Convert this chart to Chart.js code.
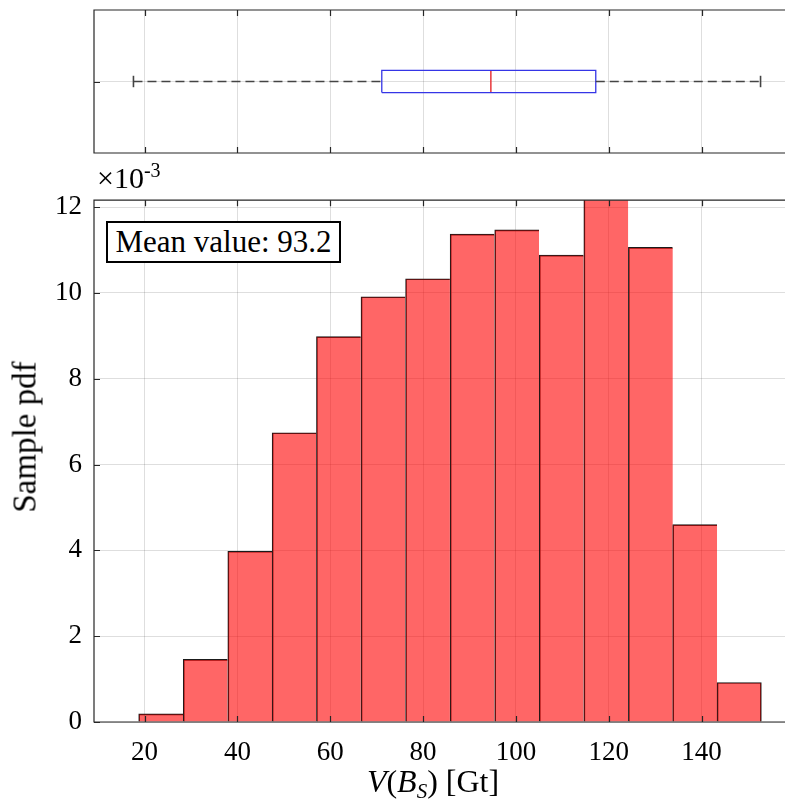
<!DOCTYPE html>
<html>
<head>
<meta charset="utf-8">
<script src="https://cdn.jsdelivr.net/npm/chart.js@4.4.1/dist/chart.umd.min.js"></script>
<style>
    html, body { margin: 0; padding: 0; background: #fff; overflow: hidden; }
    #wrap { position: relative; width: 785px; height: 801px; overflow: hidden; font-family: 'Liberation Serif', serif; color: #000; }
    canvas { position: absolute; left: 0; }
    #box-canvas { top: 0; }
    #hist-canvas { top: 172px; }
    .lbl { position: absolute; white-space: nowrap; line-height: 1; }
    #exp { left: 97px; top: 163px; font-size: 30px; }
    #exp sup { font-size: 20px; vertical-align: 11px; line-height: 0; }
    #ytitle { left: 25px; top: 437px; font-size: 33px; transform: translate(-50%, -50%) rotate(-90deg); }
    #xtitle { left: 433px; top: 765px; font-size: 32px; transform: translateX(-50%); }
    #xtitle sub { font-size: 21px; vertical-align: -6px; line-height: 0; }
    #mean { left: 106px; top: 221px; width: 231px; height: 38px; border: 2px solid #000; background: #fff; font-size: 31px; text-align: center; line-height: 38px; }
</style>
</head>
<body>
<div id="wrap">
    <canvas id="box-canvas" width="800" height="170"></canvas>
    <canvas id="hist-canvas" width="800" height="629"></canvas>
    <div class="lbl" id="exp">×10<sup>-3</sup></div>
    <div class="lbl" id="ytitle">Sample pdf</div>
    <div class="lbl" id="xtitle"><i>V</i>(<i>B</i><sub><i>S</i></sub>) [Gt]</div>
    <div class="lbl" id="mean">Mean value: 93.2</div>
</div>
<script>
// x axis shared by both panels
const xTicks = [20, 40, 60, 80, 100, 120, 140];
const xMin = 9.1;
const xMax = 161.2;

// histogram (pdf values in units of 1e-3)
const binEdges = [18.7, 28.3, 37.9, 47.5, 57.0, 66.6, 76.2, 85.8, 95.4, 105.0, 114.6, 124.2, 133.8, 143.3, 152.9];
const pdfValues = [0.19, 1.46, 3.98, 6.74, 8.98, 9.91, 10.33, 11.37, 11.47, 10.88, 12.25, 11.06, 4.60, 0.92];
const yTicks = [0, 2, 4, 6, 8, 10, 12];
const yMax = 12.16;

// boxplot stats
const whiskerLow = 17.6;
const q1 = 71.1;
const median = 94.6;
const q3 = 117.2;
const whiskerHigh = 152.7;

const AXIS_COLOR = '#262626';
const GRID_COLOR = 'rgba(0, 0, 0, 0.13)';
const TICK_LEN = 6;

// MATLAB style frame with inward ticks
const framePlugin = {
    id: 'frame',
    afterDraw(chart) {
        const { ctx, chartArea: a, scales } = chart;
        ctx.save();
        ctx.strokeStyle = AXIS_COLOR;
        ctx.lineWidth = 1.2;
        ctx.beginPath();
        ctx.rect(a.left, a.top, a.right - a.left, a.bottom - a.top);
        ctx.stroke();
        ctx.beginPath();
        scales.x.ticks.forEach(t => {
            const px = Math.round(scales.x.getPixelForValue(t.value)) + 0.5;
            ctx.moveTo(px, a.bottom);
            ctx.lineTo(px, a.bottom - TICK_LEN);
            ctx.moveTo(px, a.top);
            ctx.lineTo(px, a.top + TICK_LEN);
        });
        scales.y.ticks.forEach(t => {
            const py = Math.round(scales.y.getPixelForValue(t.value)) + 0.5;
            ctx.moveTo(a.left, py);
            ctx.lineTo(a.left + TICK_LEN, py);
        });
        ctx.stroke();
        ctx.restore();
    }
};

Chart.defaults.font.family = "'Liberation Serif', serif";
Chart.defaults.color = '#000';

function xScale(showLabels, axisHeight) {
    return {
        type: 'linear',
        min: xMin,
        max: xMax,
        offset: false,
        afterBuildTicks: scale => { scale.ticks = xTicks.map(v => ({ value: v })); },
        afterFit: scale => { scale.height = axisHeight; },
        grid: { color: GRID_COLOR, drawTicks: false, offset: false },
        border: { display: false },
        ticks: { display: showLabels, padding: 15, font: { size: 27 } }
    };
}

// top panel: boxplot
const line = (pts, color, dash, width) => ({
    data: pts,
    showLine: true,
    borderColor: color,
    borderWidth: width,
    borderDash: dash,
    pointRadius: 0,
    fill: false
});
const whiskerColor = '#444444';
const boxColor = '#3535e6';
const medianColor = '#e8373b';

new Chart(document.getElementById('box-canvas'), {
    type: 'scatter',
    data: {
        datasets: [
            line([{ x: whiskerLow, y: 1 }, { x: q1, y: 1 }], whiskerColor, [9, 5], 1.6),
            line([{ x: q3, y: 1 }, { x: whiskerHigh, y: 1 }], whiskerColor, [9, 5], 1.6),
            line([{ x: whiskerLow, y: 0.92 }, { x: whiskerLow, y: 1.08 }], whiskerColor, [], 1.6),
            line([{ x: whiskerHigh, y: 0.92 }, { x: whiskerHigh, y: 1.08 }], whiskerColor, [], 1.6),
            line([{ x: q1, y: 0.845 }, { x: q3, y: 0.845 }, { x: q3, y: 1.155 }, { x: q1, y: 1.155 }, { x: q1, y: 0.845 }], boxColor, [], 1.3),
            line([{ x: median, y: 0.845 }, { x: median, y: 1.155 }], medianColor, [], 1.5)
        ]
    },
    options: {
        responsive: false,
        animation: false,
        devicePixelRatio: 1,
        layout: { padding: { top: 10, right: 0, left: 0, bottom: 0 } },
        plugins: { legend: { display: false }, tooltip: { enabled: false } },
        scales: {
            x: xScale(false, 17),
            y: {
                type: 'linear',
                min: 0,
                max: 2,
                afterBuildTicks: scale => { scale.ticks = [{ value: 1 }]; },
                afterFit: scale => { scale.width = 94; },
                grid: { color: GRID_COLOR, drawTicks: false },
                border: { display: false },
                ticks: { display: false }
            }
        }
    },
    plugins: [framePlugin]
});

// bottom panel: histogram
const binCenters = binEdges.slice(0, -1).map((e, i) => (e + binEdges[i + 1]) / 2);
const lastBin = pdfValues.length - 1;

new Chart(document.getElementById('hist-canvas'), {
    type: 'bar',
    data: {
        datasets: [{
            data: binCenters.map((c, i) => ({ x: c, y: pdfValues[i] })),
            backgroundColor: 'rgba(255, 0, 0, 0.6)',
            borderColor: '#1a1a1a',
            borderWidth: ctx => ({ top: 1, left: 1, bottom: 0, right: ctx.dataIndex === lastBin ? 1 : 0 }),
            borderSkipped: false,
            barPercentage: 1,
            categoryPercentage: 1
        }]
    },
    options: {
        responsive: false,
        animation: false,
        devicePixelRatio: 1,
        layout: { padding: { top: 27, right: 0, left: 0, bottom: 0 } },
        plugins: { legend: { display: false }, tooltip: { enabled: false } },
        scales: {
            x: xScale(true, 79),
            y: {
                type: 'linear',
                min: 0,
                max: yMax,
                afterBuildTicks: scale => { scale.ticks = yTicks.map(v => ({ value: v })); },
                afterFit: scale => { scale.width = 94; },
                grid: { color: GRID_COLOR, drawTicks: false },
                border: { display: false },
                ticks: { padding: 12, font: { size: 27 } }
            }
        }
    },
    plugins: [framePlugin]
});
</script>
</body>
</html>
